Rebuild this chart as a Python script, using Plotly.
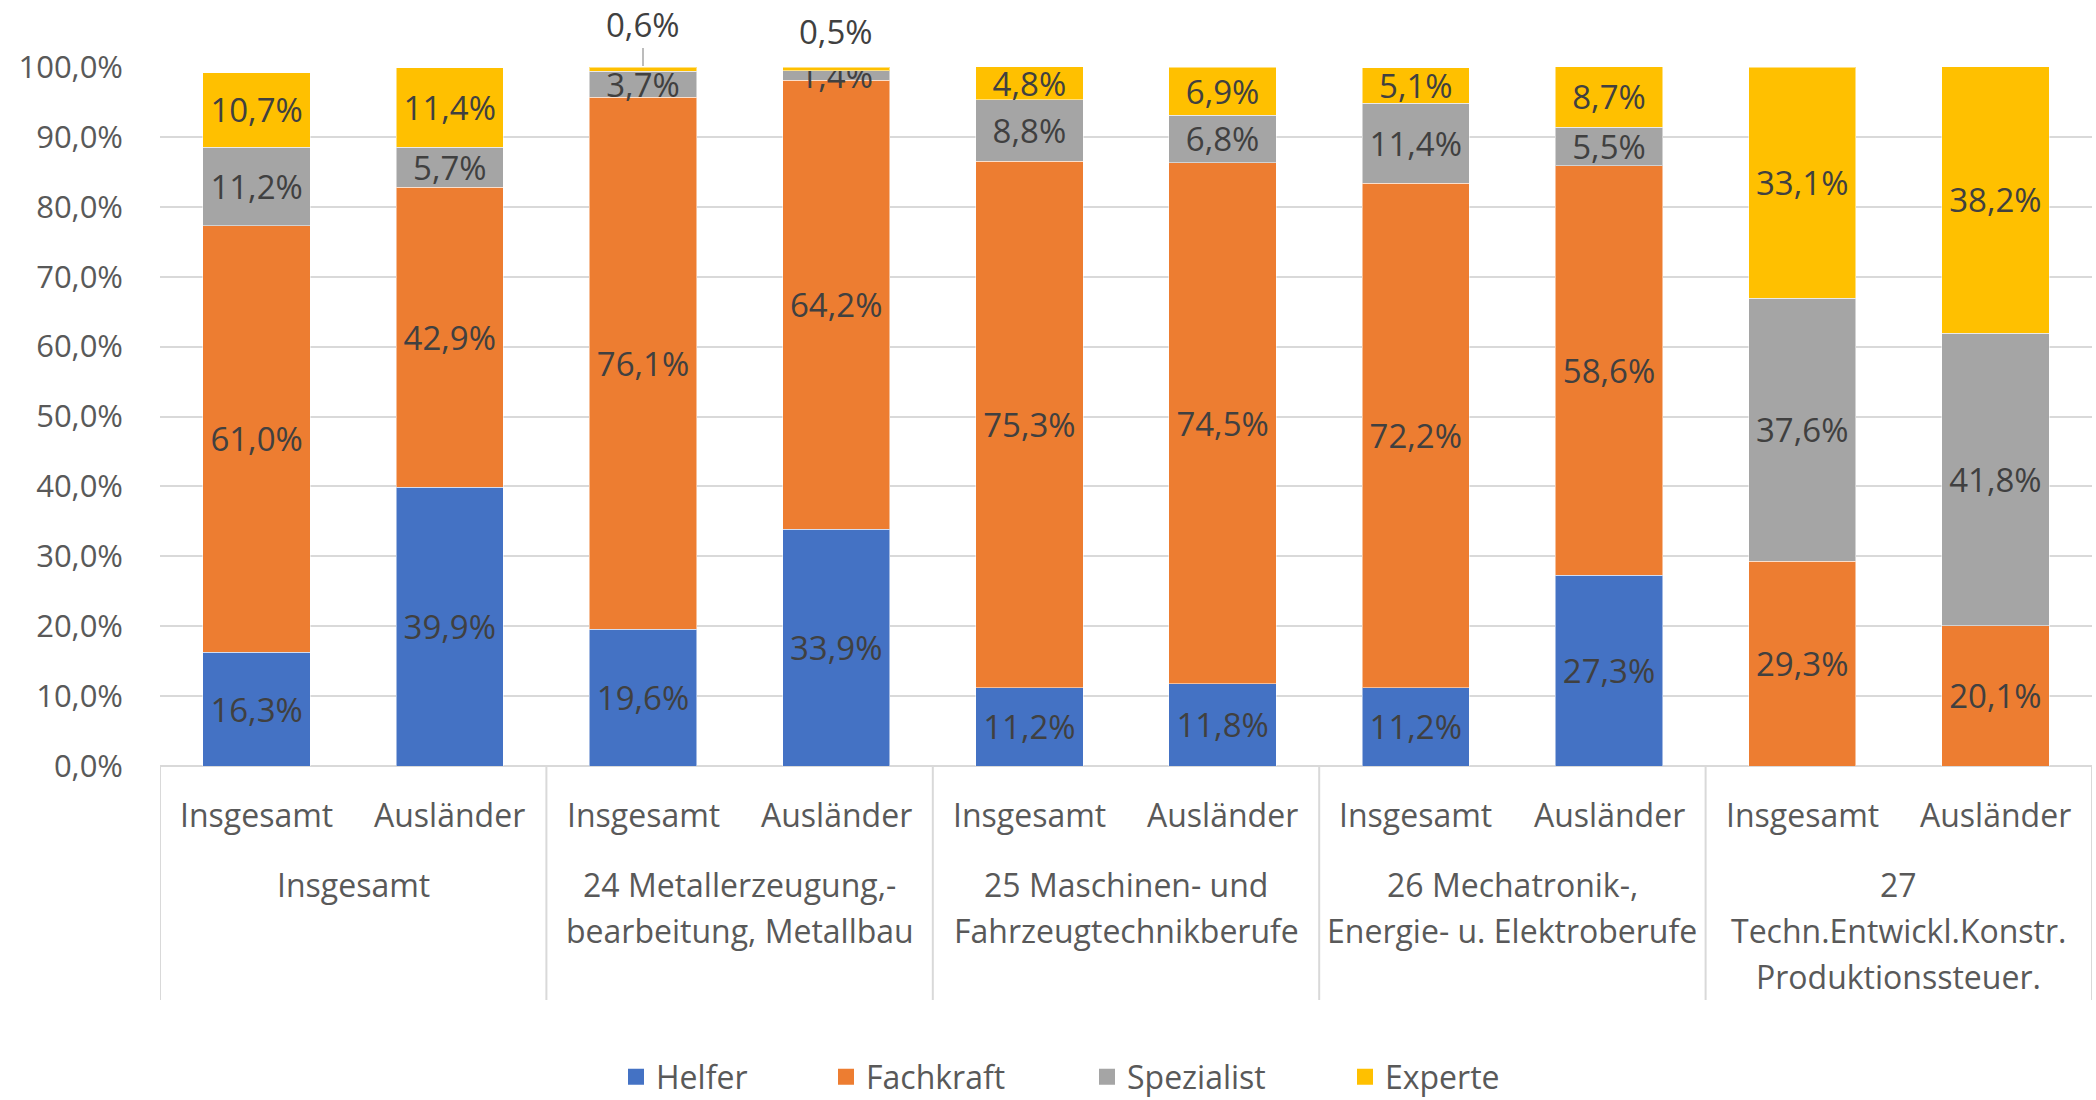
import plotly.graph_objects as go

# ---------------- data ----------------
sub_labels = ["Insgesamt", "Ausländer"] * 5
group_labels = [
    ["Insgesamt"],
    ["24 Metallerzeugung,-", "bearbeitung, Metallbau"],
    ["25 Maschinen- und", "Fahrzeugtechnikberufe"],
    ["26 Mechatronik-,", "Energie- u. Elektroberufe"],
    ["27", "Techn.Entwickl.Konstr.", "Produktionssteuer."],
]
series_names = ["Helfer", "Fachkraft", "Spezialist", "Experte"]
helfer = [16.3, 39.9, 19.6, 33.9, 11.2, 11.8, 11.2, 27.3, 0.0, 0.0]
fachkraft = [61.0, 42.9, 76.1, 64.2, 75.3, 74.5, 72.2, 58.6, 29.3, 20.1]
spezialist = [11.2, 5.7, 3.7, 1.4, 8.8, 6.8, 11.4, 5.5, 37.6, 41.8]
experte = [10.7, 11.4, 0.6, 0.5, 4.8, 6.9, 5.1, 8.7, 33.1, 38.2]
y_ticks = [0, 10, 20, 30, 40, 50, 60, 70, 80, 90, 100]

# ---------------- style ----------------
colors = ["#4472C4", "#ED7D31", "#A5A5A5", "#FFC000"]
FONT = "Open Sans"
FS = 32
FS_DATA = 33
LABEL_COL = "#404040"
AXIS_COL = "#595959"
GRID_COL = "#D9D9D9"

W, H = 2096, 1100
ML, MR, MT, MB = 160, 4, 67, 334
plot_w = W - ML - MR
plot_h = H - MT - MB
legend_px = [628, 838, 1099, 1357]   # left edge of each legend swatch (pixels)


def py_to_paper(py):
    return (H - MB - py) / plot_h


def px_to_paper(px):
    return (px - ML) / plot_w


def fmt(v):
    return f"{v:.1f}".replace(".", ",") + "%"


n = len(sub_labels)
xs = list(range(n))
series = [helfer, fachkraft, spezialist, experte]
legend_ids = ["legend", "legend2", "legend3", "legend4"]

fig = go.Figure()
for name, vals, col, lid in zip(series_names, series, colors, legend_ids):
    texts = []
    for i, v in enumerate(vals):
        # tiny segments get their labels above the bar (drawn as annotations)
        if v == 0 or (name == "Experte" and v < 1):
            texts.append("")
        else:
            texts.append(fmt(v))
    fig.add_trace(go.Bar(
        x=xs, y=vals, name=name, width=0.555,
        marker=dict(color=col, line=dict(color="rgba(255,255,255,0.5)", width=1)),
        text=texts, textposition="inside", insidetextanchor="middle",
        constraintext="none", textangle=0,
        textfont=dict(family=FONT, size=FS_DATA, color=LABEL_COL),
        showlegend=False, hoverinfo="skip",
    ))
    # legend proxy with larger square swatch
    fig.add_trace(go.Scatter(
        x=[None], y=[None], mode="markers", name=name, legend=lid,
        marker=dict(symbol="square", size=20, color=col),
        showlegend=True,
    ))

# labels for the tiny Experte segments, above the bars
small_offsets = {2: (-43, True), 3: (-36, False)}
for i, v in enumerate(experte):
    if 0 < v < 1:
        ay, arrow = small_offsets.get(i, (-40, False))
        fig.add_annotation(
            x=xs[i], y=100, xref="x", yref="y", text=fmt(v),
            showarrow=True, arrowhead=0, arrowwidth=1.5,
            arrowcolor="#A6A6A6" if arrow else "rgba(0,0,0,0)",
            ax=0, ay=ay, standoff=1,
            font=dict(family=FONT, size=FS_DATA, color=LABEL_COL),
        )

# sub-category labels
for i, lab in enumerate(sub_labels):
    fig.add_annotation(
        x=xs[i], y=py_to_paper(814), xref="x", yref="paper", text=lab,
        showarrow=False, yanchor="middle",
        font=dict(family=FONT, size=FS, color=AXIS_COL),
    )

# group labels (line by line)
for g, lines in enumerate(group_labels):
    xc = 2 * g + 0.5
    for k, line in enumerate(lines):
        fig.add_annotation(
            x=xc, y=py_to_paper(884 + 46 * k), xref="x", yref="paper", text=line,
            showarrow=False, yanchor="middle",
            font=dict(family=FONT, size=FS, color=AXIS_COL),
        )

# group dividers below the axis
for b in [-0.5, 1.5, 3.5, 5.5, 7.5, 9.5]:
    fig.add_shape(
        type="line", xref="x", yref="paper", x0=b, x1=b,
        y0=0, y1=py_to_paper(1000),
        line=dict(color=GRID_COL, width=2),
    )

legend_common = dict(orientation="h", xanchor="left", yanchor="middle",
                     y=py_to_paper(1077), bgcolor="rgba(0,0,0,0)",
                     font=dict(family=FONT, size=32, color=AXIS_COL),
                     itemsizing="trace")
legends = {lid: dict(legend_common, x=px_to_paper(p - 12))
           for lid, p in zip(legend_ids, legend_px)}

fig.update_layout(
    width=W, height=H,
    barmode="stack",
    separators=",.",
    plot_bgcolor="white", paper_bgcolor="white",
    margin=dict(l=ML, r=MR, t=MT, b=MB, autoexpand=False),
    font=dict(family=FONT, size=FS, color=AXIS_COL),
    xaxis=dict(range=[-0.5, 9.5], showticklabels=False, showgrid=False,
               zeroline=False, showline=False, ticks="", automargin=False),
    yaxis=dict(range=[0, 100], tickvals=y_ticks, ticktext=[fmt(t) for t in y_ticks],
               showgrid=True, gridcolor=GRID_COL, gridwidth=2,
               zeroline=True, zerolinecolor=GRID_COL, zerolinewidth=2,
               showline=False, ticks="", ticklabelstandoff=36, automargin=False,
               tickfont=dict(family=FONT, size=31, color=AXIS_COL)),
    showlegend=True,
    **legends,
)

fig.write_html(
    "out.html",
    config={"displayModeBar": False},
    post_script="document.body.style.margin='0';document.body.style.overflow='hidden';",
)
